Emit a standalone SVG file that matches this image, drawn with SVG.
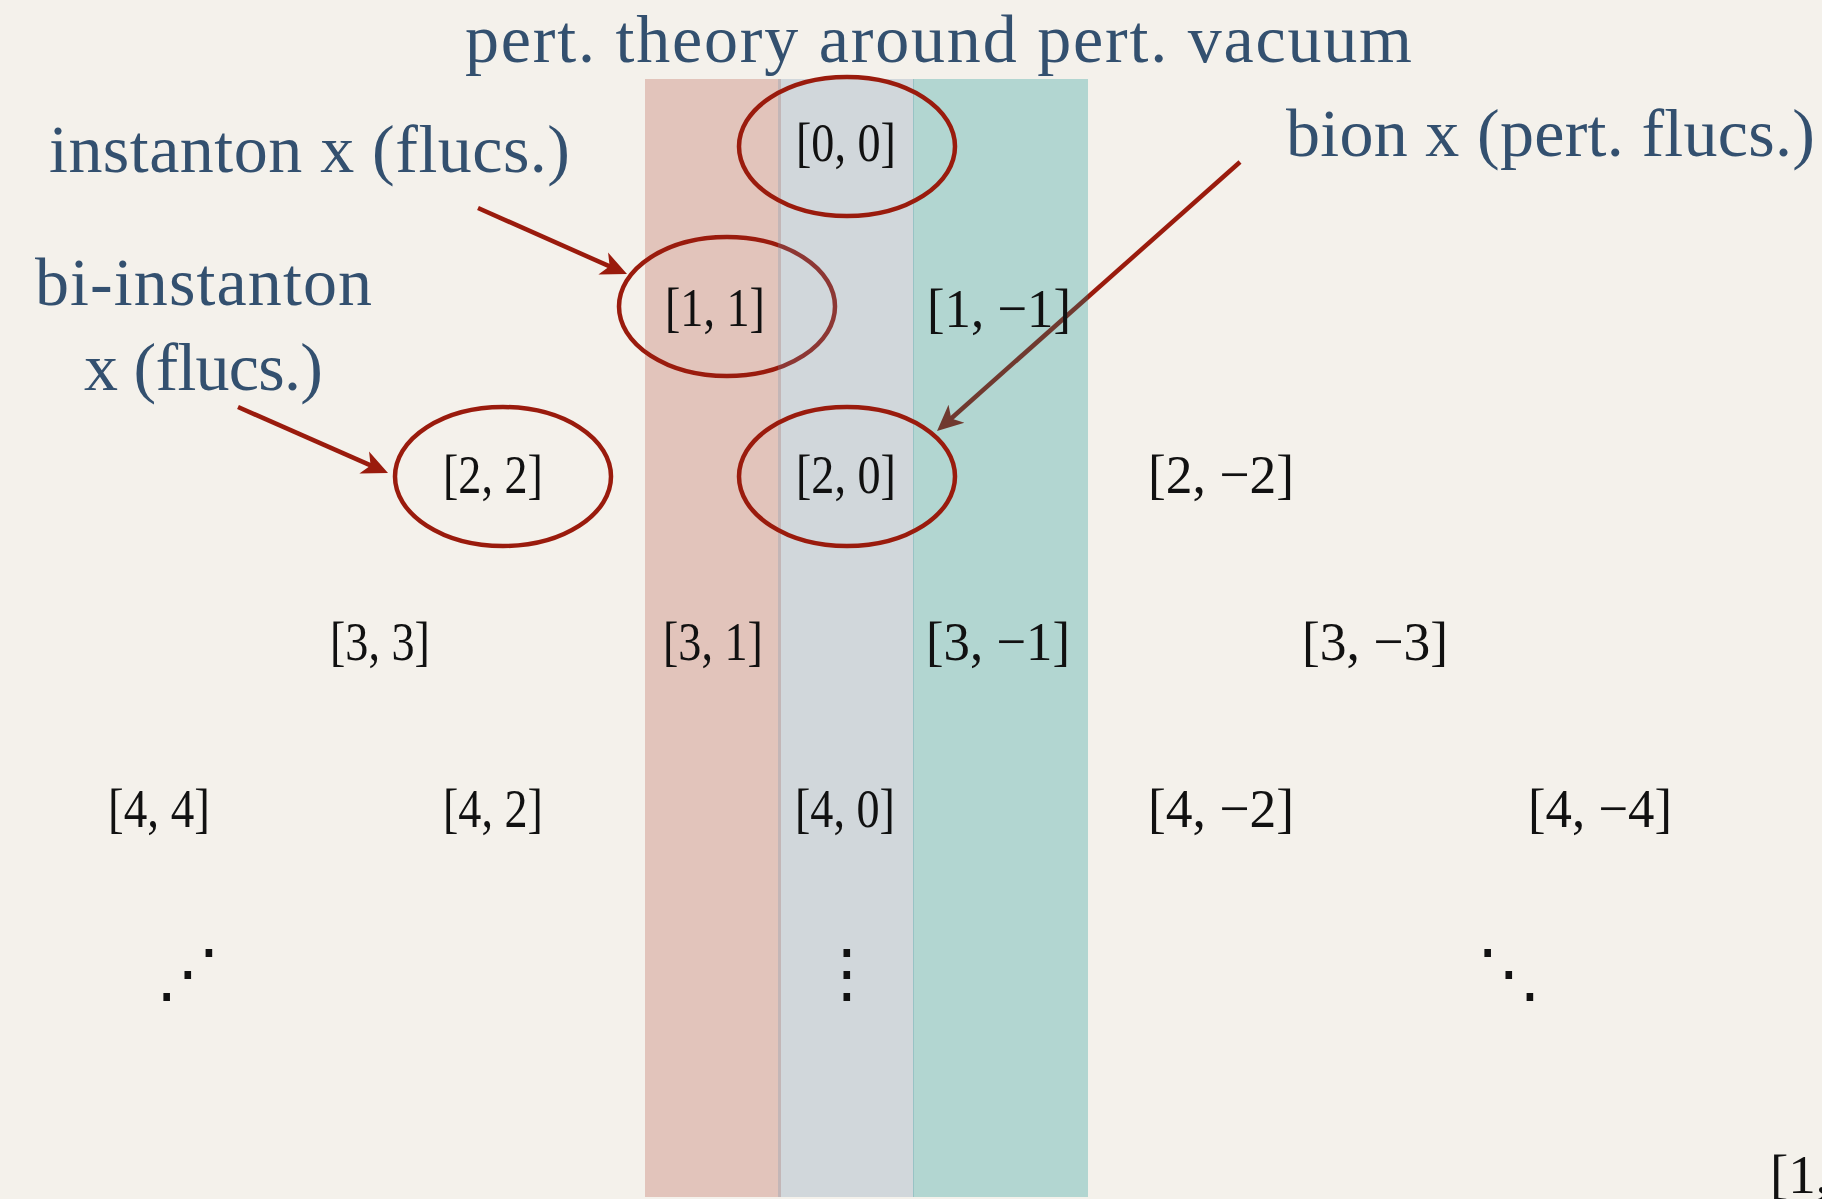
<svg xmlns="http://www.w3.org/2000/svg" width="1822" height="1199" viewBox="0 0 1822 1199">
<defs>
<style>
.lbl{font-family:"Liberation Serif",serif;font-size:68px;fill:#33506f}
.m{font-family:"Liberation Serif",serif;font-size:55px;fill:#111;text-anchor:middle}
.dots{font-family:"DejaVu Sans",sans-serif;font-size:64px;fill:#111;text-anchor:middle}
.ring{fill:none;stroke:#9a1b0d;stroke-width:4.5}
.arrow{fill:none;stroke:#9a1b0d;stroke-width:4.5;marker-end:url(#ah)}
</style>
<marker id="ah" markerUnits="userSpaceOnUse" viewBox="0 -13 27 26" markerWidth="27" markerHeight="26" refX="12" refY="0" orient="auto">
<path d="M26,0 L0,-12 L7,0 L0,12 Z" fill="#9a1b0d"/>
</marker>
</defs>
<rect width="1822" height="1199" fill="#f4f1eb"/>
<rect id="band-pink" x="645" y="79" width="136" height="1118" fill="#e2c4bb"/>
<g id="n11"><ellipse class="ring" cx="727" cy="306.5" rx="108" ry="69.5"/><text class="m" x="715" y="326" textLength="100" lengthAdjust="spacingAndGlyphs">[1, 1]</text></g>
<rect id="band-blue" x="778" y="79" width="136" height="1118" fill="rgb(104,138,172)" fill-opacity="0.25"/>
<g id="connectors">
<line class="arrow" x1="478" y1="208" x2="614.2" y2="268.4"/>
<line class="arrow" x1="238" y1="407" x2="375.2" y2="467.4"/>
<line class="arrow" x1="1240" y1="162" x2="947.5" y2="421.7"/>
</g>
<rect id="band-teal" x="913" y="79" width="175" height="1118" fill="rgb(0,141,142)" fill-opacity="0.27"/>
<g id="n00"><ellipse class="ring" cx="847" cy="146.5" rx="108" ry="69.5"/><text class="m" x="846" y="161" textLength="100" lengthAdjust="spacingAndGlyphs">[0, 0]</text></g>
<g id="n1m1"><text class="m" x="999" y="327" textLength="144" lengthAdjust="spacingAndGlyphs">[1, −1]</text></g>
<g id="n22"><ellipse class="ring" cx="503" cy="476.5" rx="108" ry="69.5"/><text class="m" x="493" y="493" textLength="100" lengthAdjust="spacingAndGlyphs">[2, 2]</text></g>
<g id="n20"><ellipse class="ring" cx="847" cy="476.5" rx="108" ry="69.5"/><text class="m" x="846" y="493" textLength="100" lengthAdjust="spacingAndGlyphs">[2, 0]</text></g>
<g id="n2m2"><text class="m" x="1221" y="493" textLength="146" lengthAdjust="spacingAndGlyphs">[2, −2]</text></g>
<g id="n33"><text class="m" x="380" y="660" textLength="100" lengthAdjust="spacingAndGlyphs">[3, 3]</text></g>
<g id="n31"><text class="m" x="713" y="660" textLength="100" lengthAdjust="spacingAndGlyphs">[3, 1]</text></g>
<g id="n3m1"><text class="m" x="998" y="660" textLength="144" lengthAdjust="spacingAndGlyphs">[3, −1]</text></g>
<g id="n3m3"><text class="m" x="1375" y="660" textLength="146" lengthAdjust="spacingAndGlyphs">[3, −3]</text></g>
<g id="n44"><text class="m" x="159" y="827" textLength="102" lengthAdjust="spacingAndGlyphs">[4, 4]</text></g>
<g id="n42"><text class="m" x="493" y="827" textLength="100" lengthAdjust="spacingAndGlyphs">[4, 2]</text></g>
<g id="n40"><text class="m" x="845" y="827" textLength="100" lengthAdjust="spacingAndGlyphs">[4, 0]</text></g>
<g id="n4m2"><text class="m" x="1221" y="827" textLength="146" lengthAdjust="spacingAndGlyphs">[4, −2]</text></g>
<g id="n4m4"><text class="m" x="1600" y="827" textLength="144" lengthAdjust="spacingAndGlyphs">[4, −4]</text></g>
<g id="dots-left"><text class="dots" x="188" y="995">⋰</text></g>
<g id="dots-mid"><text class="dots" x="847" y="995">⋮</text></g>
<g id="dots-right"><text class="dots" x="1509" y="995">⋱</text></g>
<g id="n1x"><text class="m" x="1770" y="1193" style="text-anchor:start">[1,</text></g>
<g id="label-title"><text class="lbl" x="465" y="62" textLength="947">pert. theory around pert. vacuum</text></g>
<g id="label-instanton"><text class="lbl" x="49" y="172" textLength="521">instanton x (flucs.)</text></g>
<g id="label-bi"><text class="lbl" x="35" y="305" textLength="337">bi-instanton</text><text class="lbl" x="84" y="390" textLength="239">x (flucs.)</text></g>
<g id="label-bion"><text class="lbl" x="1286" y="156" textLength="529">bion x (pert. flucs.)</text></g>
</svg>
